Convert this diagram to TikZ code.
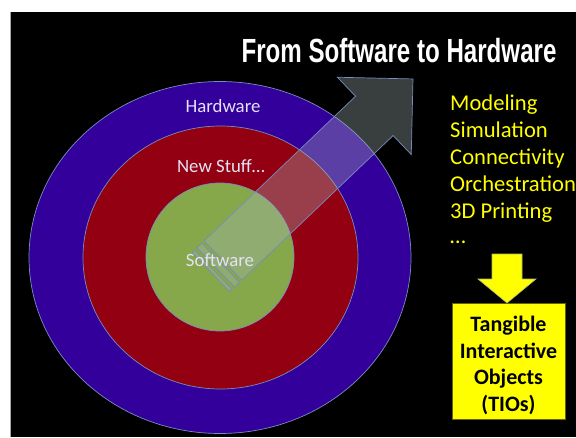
\documentclass[tikz,border=0pt]{standalone}
\usepackage{fontspec}
\usepackage{graphicx}
\setmainfont{Carlito}
\newfontfamily\titlefont{Liberation Sans}
\definecolor{bgblack}{RGB}{0,0,0}
\definecolor{ringblue}{RGB}{51,0,156}
\definecolor{ringred}{RGB}{146,0,18}
\definecolor{ringgreen}{RGB}{134,167,74}
\definecolor{edgeblue}{RGB}{120,140,190}
\definecolor{arrowfill}{RGB}{166,183,183}
\definecolor{labelwhite}{RGB}{228,226,244}
\definecolor{hiyellow}{RGB}{255,255,0}
\tikzset{
  ringedge/.style={draw=edgeblue, line width=0.7pt},
  bigarrow/.style={draw=edgeblue, line width=0.7pt, fill=arrowfill, fill opacity=0.35},
  ringlabel/.style={text=labelwhite, font=\fontsize{18.8}{22}\selectfont, inner sep=0pt},
  listitem/.style={text=hiyellow, font=\fontsize{22.6}{26}\selectfont, anchor=base west, inner sep=0pt},
}
\begin{document}
\begin{tikzpicture}[x=1pt, y=-1pt]
\useasboundingbox (0,0) rectangle (576,437);
\fill[white] (0,0) rectangle (576,437);
\fill[bgblack] (10,12) rectangle (576,437);
\draw[gray!70, line width=0.8pt] (10.4,12) -- (10.4,437);
% rings
\filldraw[ringedge, fill=ringblue] (220,257.5) ellipse [x radius=191, y radius=176];
\filldraw[ringedge, fill=ringred] (220.5,257.5) ellipse [x radius=137.5, y radius=131.5];
\filldraw[ringedge, fill=ringgreen] (220,257) circle [radius=74];
% big striped arrow
\begin{scope}[shift={(223,260.5)}, rotate=43.7]
  \draw[bigarrow] (0pt,-27.2pt) -- (209.3pt,-27.2pt) -- (209.3pt,-53.5pt) -- (262.8pt,0pt)
     -- (209.3pt,53.5pt) -- (209.3pt,27.2pt) -- (0pt,27.2pt) -- cycle;
  \draw[bigarrow] (-3.3pt,-27.2pt) rectangle (-10pt,27.2pt);
  \draw[bigarrow] (-13.4pt,-27.2pt) rectangle (-16.7pt,27.2pt);
\end{scope}
% ring labels
\node[ringlabel, anchor=base] (hw) at (223,112.5) {Hardware};
\node[ringlabel, anchor=base] (ns) at (221,172.5) {New Stuff…};
\node[ringlabel, anchor=base] (sw) at (220,266) {Software};
% title
\node[anchor=base, inner sep=0pt, text=white] (title) at (399,62)
  {\scalebox{0.72}[1]{\titlefont\bfseries\fontsize{33.5}{36}\selectfont From Software to Hardware}};
% list
\node[listitem] (l1) at (450,110.5) {Modeling};
\node[listitem] (l2) at (450,137.5) {Simulation};
\node[listitem] (l3) at (450,164.5) {Connectivity};
\node[listitem] (l4) at (450,191.5) {Orchestration};
\node[listitem] (l5) at (450,218) {3D Printing};
\node[listitem] (l6) at (450,243) {…};
% yellow down arrow
\filldraw[draw=edgeblue!60!hiyellow, line width=0.6pt, fill=hiyellow]
  (492,254) -- (522,254) -- (522,279) -- (536,279) -- (507,303) -- (478,279) -- (492,279) -- cycle;
% TIO box
\node[draw=black!60!hiyellow, line width=0.6pt, fill=hiyellow, minimum width=113pt, minimum height=116pt,
      inner sep=0pt] (tio) at (508.5,361) {};
\node[inner sep=0pt, align=center, font=\bfseries\fontsize{22}{26.4}\selectfont] (tiotext) at ([yshift=-4.5pt]tio.center)
  {Tangible\\Interactive\\Objects\\(TIOs)};
\end{tikzpicture}
\end{document}
